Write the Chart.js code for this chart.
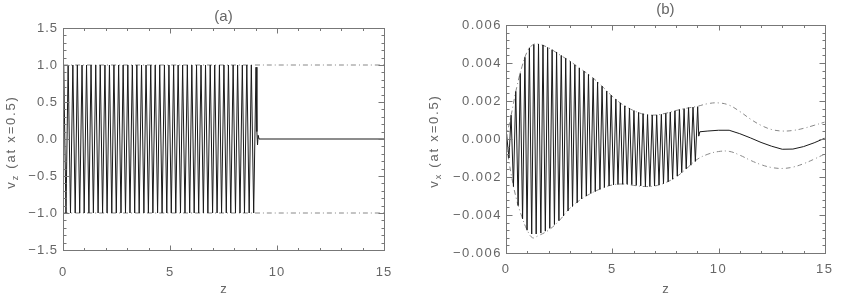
<!DOCTYPE html>
<html>
<head>
<meta charset="utf-8">
<script src="https://cdn.jsdelivr.net/npm/chart.js@4.4.1/dist/chart.umd.min.js"></script>
<style>
  body { margin: 0; background: #fff; }
  canvas { position: absolute; top: 0; }
</style>
</head>
<body>
<canvas id="panelA" width="420" height="294" style="left:0;width:420px;height:294px"></canvas>
<canvas id="panelB" width="421" height="294" style="left:420px;width:421px;height:294px"></canvas>
<script>
// z of each crest/trough of the fast wave (same in both panels)
const zPeaks = [
  0.03, 0.14, 0.24, 0.35, 0.46, 0.57, 0.67, 0.78, 0.89, 0.99,
  1.10, 1.21, 1.31, 1.42, 1.53, 1.64, 1.74, 1.85, 1.96, 2.06,
  2.17, 2.28, 2.38, 2.49, 2.60, 2.71, 2.81, 2.92, 3.03, 3.13,
  3.24, 3.35, 3.45, 3.56, 3.67, 3.78, 3.88, 3.99, 4.10, 4.20,
  4.31, 4.42, 4.52, 4.63, 4.74, 4.85, 4.95, 5.06, 5.17, 5.27,
  5.38, 5.49, 5.59, 5.70, 5.81, 5.92, 6.02, 6.13, 6.24, 6.34,
  6.45, 6.56, 6.66, 6.77, 6.88, 6.99, 7.09, 7.20, 7.31, 7.41,
  7.52, 7.63, 7.73, 7.84, 7.95, 8.06, 8.16, 8.27, 8.38, 8.48,
  8.59, 8.70, 8.80, 8.91, 9.02
];

// panel (a): v_z
const vzPeaks = [
  1, -1, 1, -1, 1, -1, 1, -1, 1, -1,
  1, -1, 1, -1, 1, -1, 1, -1, 1, -1,
  1, -1, 1, -1, 1, -1, 1, -1, 1, -1,
  1, -1, 1, -1, 1, -1, 1, -1, 1, -1,
  1, -1, 1, -1, 1, -1, 1, -1, 1, -1,
  1, -1, 1, -1, 1, -1, 1, -1, 1, -1,
  1, -1, 1, -1, 1, -1, 1, -1, 1, -1,
  1, -1, 1, -1, 1, -1, 1, -1, 1, -1,
  1, -1, 1, -1, 0.97
];
const vzHead = [[0, 0.55]];
const vzTail = [[9.06, 0.1], [9.09, -0.08], [9.12, 0.05], [9.16, 0], [15, 0]];
const vzEnvZ = [0, 15];
const vzEnvTop = [1, 1];
const vzEnvBot = [-1, -1];

// panel (b): v_x, in units of 1e-3
const vxPeaks = [
  0.2, -1.0, 1.25, -2.5, 2.5, -3.5, 3.45, -4.2, 4.3, -4.8,
  4.8, -5.0, 4.97, -5.0, 5.0, -4.95, 4.95, -4.85, 4.82, -4.7,
  4.7, -4.5, 4.58, -4.3, 4.4, -4.05, 4.25, -3.78, 4.08, -3.55,
  3.9, -3.35, 3.74, -3.15, 3.57, -3.0, 3.4, -2.87, 3.2, -2.77,
  3.0, -2.65, 2.78, -2.55, 2.52, -2.47, 2.3, -2.42, 2.1, -2.4,
  1.9, -2.38, 1.75, -2.38, 1.62, -2.4, 1.5, -2.44, 1.4, -2.47,
  1.33, -2.5, 1.28, -2.5, 1.26, -2.47, 1.27, -2.42, 1.3, -2.35,
  1.35, -2.25, 1.42, -2.12, 1.48, -1.95, 1.55, -1.77, 1.6, -1.57,
  1.65, -1.38, 1.68, -1.18, 1.7
];
const vxHead = [[0, -0.6]];
const vxTail = [[9.07, 0.15], [9.12, 0.38]];
const zSlow = [9.12, 9.5, 10, 10.5, 11, 11.5, 12, 12.5, 13, 13.5, 14, 14.5, 15];
const vxSlow = [0.38, 0.42, 0.46, 0.46, 0.28, 0.06, -0.18, -0.38, -0.54, -0.53, -0.4, -0.2, 0.04];
const zEnv = [0, 0.25, 0.5, 0.75, 1, 1.25, 1.5, 2, 2.5, 3, 3.5, 4, 4.5, 5, 5.5, 6, 6.5,
  7, 7.5, 8, 8.5, 9, 9.5, 10, 10.5, 11, 11.5, 12, 12.5, 13, 13.5, 14, 14.5, 15];
const vxEnvTop = [0, 1.3, 2.7, 3.8, 4.6, 4.95, 5.0, 4.8, 4.45, 4.1, 3.7, 3.3, 2.8, 2.25, 1.8, 1.5, 1.3,
  1.26, 1.35, 1.5, 1.62, 1.72, 1.86, 1.9, 1.78, 1.45, 1.05, 0.72, 0.5, 0.42, 0.45, 0.56, 0.72, 0.89];
const vxEnvBot = [-0.2, -1.9, -3.2, -4.1, -4.8, -5.2, -5.1, -4.8, -4.3, -3.65, -3.2, -2.86, -2.6, -2.42, -2.37, -2.44, -2.5,
  -2.47, -2.3, -2.0, -1.55, -1.07, -0.8, -0.66, -0.65, -0.85, -1.12, -1.35, -1.5, -1.55, -1.48, -1.3, -1.06, -0.79];

const xTicks = [0, 5, 10, 15];

const FONT = '"Liberation Sans", Arial, sans-serif';
const INK = '#666';

function pts(xs, ys, k) {
  k = k || 1;
  return xs.map((x, i) => ({ x: x, y: ys[i] * k }));
}
function pairs(list, k) {
  k = k || 1;
  return list.map(p => ({ x: p[0], y: p[1] * k }));
}
function minus(s) { return s.replace('-', '\u2212'); }

// box, inward ticks on all four sides, titles (IDL look)
const idlFrame = {
  id: 'idlFrame',
  beforeDraw(chart, args, o) {
    chart.ctx.letterSpacing = o.spacing;
  },
  afterDraw(chart, args, o) {
    const ctx = chart.ctx, a = chart.chartArea;
    const x = chart.scales.x, y = chart.scales.y;
    ctx.save();
    ctx.letterSpacing = '0px';
    ctx.strokeStyle = '#777';
    ctx.lineWidth = 1;
    const L = Math.round(a.left) + 0.5, R = Math.round(a.right) + 0.5;
    const T = Math.round(a.top) + 0.5, B = Math.round(a.bottom) + 0.5;
    ctx.strokeRect(L, T, R - L, B - T);
    ctx.beginPath();
    let n = Math.round((x.max - x.min) / o.xMinor);
    for (let i = 0; i <= n; i++) {
      const px = Math.round(x.getPixelForValue(x.min + i * o.xMinor)) + 0.5;
      const len = i % o.xEvery === 0 ? 5 : 2.5;
      ctx.moveTo(px, B); ctx.lineTo(px, B - len);
      ctx.moveTo(px, T); ctx.lineTo(px, T + len);
    }
    n = Math.round((y.max - y.min) / o.yMinor);
    for (let i = 0; i <= n; i++) {
      const py = Math.round(y.getPixelForValue(y.min + i * o.yMinor)) + 0.5;
      const len = i % o.yEvery === 0 ? 6 : 3;
      ctx.moveTo(L, py); ctx.lineTo(L + len, py);
      ctx.moveTo(R, py); ctx.lineTo(R - len, py);
    }
    ctx.stroke();

    ctx.fillStyle = INK;
    ctx.textAlign = 'center';
    ctx.textBaseline = 'middle';
    ctx.font = '15px ' + FONT;
    ctx.fillText(o.title, (a.left + a.right) / 2, o.titleY);
    ctx.font = '13px ' + FONT;
    ctx.textBaseline = 'alphabetic';
    ctx.fillText('z', (a.left + a.right) / 2, o.zY);

    // rotated y title with subscript
    ctx.translate(o.yTitleX, o.yTitleY);
    ctx.rotate(-Math.PI / 2);
    ctx.letterSpacing = o.ySpacing;
    ctx.textAlign = 'left';
    const big = '13px ' + FONT, small = '9px ' + FONT;
    ctx.font = big;
    const w1 = ctx.measureText('v').width;
    const w3 = ctx.measureText(' (at x=0.5)').width;
    ctx.font = small;
    const w2 = ctx.measureText(o.sub).width;
    let cx = -(w1 + w2 + w3) / 2;
    ctx.font = big;
    ctx.fillText('v', cx, 0);
    cx += w1;
    ctx.font = small;
    ctx.fillText(o.sub, cx, 3);
    cx += w2;
    ctx.font = big;
    ctx.fillText(' (at x=0.5)', cx, 0);
    ctx.restore();
  }
};

function waveSet(data) {
  return { data: data, borderColor: '#1a1a1a', borderWidth: 1, pointRadius: 0, tension: 0, fill: false };
}
function dashSet(data) {
  return { data: data, borderColor: '#888', borderWidth: 1, borderDash: [5, 3, 1, 3],
    pointRadius: 0, tension: 0.4, fill: false };
}

function makePanel(id, cfg) {
  new Chart(document.getElementById(id), {
    type: 'line',
    data: { datasets: cfg.datasets },
    options: {
      responsive: false,
      animation: false,
      devicePixelRatio: 1,
      layout: { padding: cfg.padding },
      plugins: {
        legend: { display: false },
        tooltip: { enabled: false },
        idlFrame: cfg.frame
      },
      scales: {
        x: {
          type: 'linear', min: 0, max: 15,
          afterBuildTicks: s => { s.ticks = xTicks.map(v => ({ value: v })); },
          ticks: { color: INK, font: { family: FONT, size: 13 }, padding: cfg.xPad,
            maxRotation: 0, autoSkip: false, callback: v => String(v) },
          grid: { display: false, drawTicks: false },
          border: { display: false },
          afterFit: s => { s.height = cfg.xHeight; }
        },
        y: {
          type: 'linear', min: cfg.yMin, max: cfg.yMax,
          ticks: { stepSize: cfg.yStep, color: INK, font: { family: FONT, size: 13 }, padding: cfg.yPad,
            autoSkip: false, callback: cfg.yFmt },
          grid: { display: false, drawTicks: false },
          border: { display: false },
          afterFit: s => { s.width = cfg.yWidth; }
        }
      }
    },
    plugins: [idlFrame]
  });
}

makePanel('panelA', {
  datasets: [
    waveSet(pairs(vzHead).concat(pts(zPeaks, vzPeaks), pairs(vzTail))),
    dashSet(pts(vzEnvZ, vzEnvTop)),
    dashSet(pts(vzEnvZ, vzEnvBot))
  ],
  padding: { left: 0, right: 36, top: 28, bottom: 0 },
  xHeight: 44, yWidth: 63, xPad: 15, yPad: 5,
  yMin: -1.5, yMax: 1.5, yStep: 0.5,
  yFmt: v => minus(v.toFixed(1)),
  frame: { spacing: '1px', xMinor: 1, xEvery: 5, yMinor: 0.1, yEvery: 5,
    title: '(a)', titleY: 17, zY: 293, sub: 'z', yTitleX: 14.5, yTitleY: 142, ySpacing: '1.8px' }
});

makePanel('panelB', {
  datasets: [
    waveSet(pairs(vxHead, 1e-3).concat(pts(zPeaks, vxPeaks, 1e-3), pairs(vxTail, 1e-3))),
    waveSet(pts(zSlow, vxSlow, 1e-3)),
    dashSet(pts(zEnv, vxEnvTop, 1e-3)),
    dashSet(pts(zEnv, vxEnvBot, 1e-3))
  ],
  padding: { left: 0, right: 8, top: 25, bottom: 0 },
  xHeight: 41, yWidth: 86, xPad: 9, yPad: 4,
  yMin: -0.006, yMax: 0.006, yStep: 0.002,
  yFmt: v => Math.abs(v) < 1e-9 ? '0.000' : minus(v.toFixed(3)),
  frame: { spacing: '1.5px', xMinor: 1, xEvery: 5, yMinor: 0.0004, yEvery: 5,
    title: '(b)', titleY: 10, zY: 293, sub: 'x', yTitleX: 17.5, yTitleY: 141, ySpacing: '1.8px' }
});
</script>
</body>
</html>
